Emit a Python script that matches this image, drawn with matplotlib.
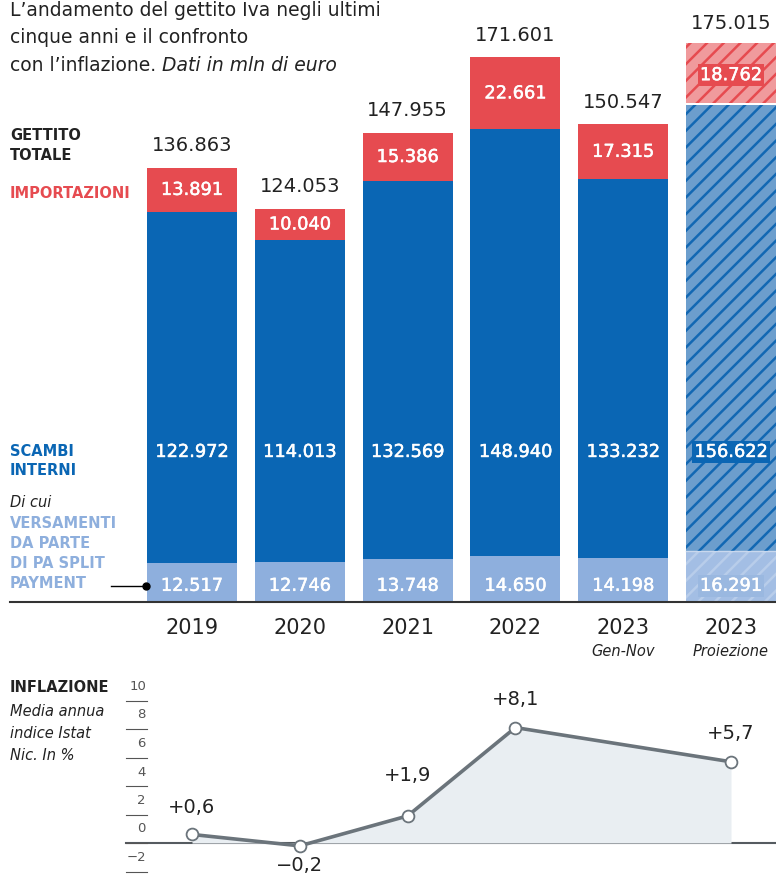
import matplotlib
matplotlib.use('Agg')
import matplotlib.pyplot as plt
import matplotlib.patheffects as pe
import numpy as np

# data (mln di euro)
years = ['2019', '2020', '2021', '2022', '2023', '2023']
subyears = ['', '', '', '', 'Gen-Nov', 'Proiezione']
totale = [136863, 124053, 147955, 171601, 150547, 175015]
importazioni = [13891, 10040, 15386, 22661, 17315, 18762]
scambi = [122972, 114013, 132569, 148940, 133232, 156622]
split = [12517, 12746, 13748, 14650, 14198, 16291]

infl_cols = [0, 1, 2, 3, 5]
inflazione = [0.6, -0.2, 1.9, 8.1, 5.7]

W, H = 776, 881
BLUE = '#0a66b4'
RED = '#e64b50'
LIGHT = '#8eafdd'
DARK = '#222222'

plt.rcParams['font.family'] = 'DejaVu Sans'
plt.rcParams['hatch.linewidth'] = 1.8

fig = plt.figure(figsize=(W / 100, H / 100), dpi=100)


def fx(px):
    return px / W


def fy(py):
    return 1 - py / H


# ---- bar chart ----
px_per_unit = 107.8
x0_px = 192
xlim = (-x0_px / px_per_unit, (W - x0_px) / px_per_unit)
base_px = 603
val_per_px = 314.5

ax = fig.add_axes([0, 1 - base_px / H, 1, base_px / H])
ax.set_xlim(*xlim)
ax.set_ylim(0, base_px * val_per_px)
ax.axis('off')

bw = 90 / px_per_unit
x = np.arange(len(years))
split_a = np.array(split)
scambi_a = np.array(scambi)
imp_a = np.array(importazioni)
lab_font = dict(fontsize=12.8, path_effects=[pe.withStroke(linewidth=0.35, foreground='white')])

for i in x:
    proj = subyears[i] == 'Proiezione'
    if not proj:
        ax.bar(i, split_a[i], bw, color=LIGHT, linewidth=0)
        ax.bar(i, scambi_a[i] - split_a[i], bw, bottom=split_a[i], color=BLUE, linewidth=0)
        ax.bar(i, imp_a[i], bw, bottom=scambi_a[i], color=RED, linewidth=0)
    else:
        ax.bar(i, split_a[i], bw, color='#a3bee4', edgecolor='#b8cdea', linewidth=0, hatch='//')
        ax.bar(i, scambi_a[i] - split_a[i], bw, bottom=split_a[i], color='#6c9ecd',
               edgecolor='#1268b3', linewidth=0, hatch='//')
        ax.bar(i, imp_a[i], bw, bottom=scambi_a[i] + 600, color='#f09a9c',
               edgecolor=RED, linewidth=0, hatch='//')
        ax.plot([i - bw / 2, i + bw / 2], [split_a[i]] * 2, color='#c9d8ee', lw=1)

    fmt = lambda v: f'{v:,}'.replace(',', '.')
    box = lambda c: dict(boxstyle='square,pad=0.12', fc=c, ec='none') if proj else None
    ax.text(i, scambi_a[i] + imp_a[i] + 7000, fmt(totale[i]), ha='center', va='center',
            fontsize=14, color=DARK)
    ax.text(i, scambi_a[i] + imp_a[i] / 2, fmt(importazioni[i]), ha='center', va='center',
            color='white', bbox=box(RED), **lab_font)
    ax.text(i, 47500, fmt(scambi[i]), ha='center', va='center',
            color='white', bbox=box(BLUE), **lab_font)
    ax.text(i, 5400, fmt(split[i]), ha='center', va='center',
            color='white', bbox=box('#9ab8e0'), **lab_font)

# baseline and year labels
fig.add_artist(plt.Line2D([fx(10), 1], [fy(602), fy(602)], color='#333333', lw=1.5))
for i in x:
    xp = fx(x0_px + i * px_per_unit)
    fig.text(xp, fy(628), years[i], ha='center', va='center', fontsize=15, color=DARK)
    if subyears[i]:
        fig.text(xp, fy(652), subyears[i], ha='center', va='center', fontsize=10.5,
                 style='italic', color=DARK)

# connector for split payment
fig.add_artist(plt.Line2D([fx(111), fx(146)], [fy(586), fy(586)], color='black', lw=1))
fig.add_artist(plt.Line2D([fx(146)], [fy(586)], marker='o', ms=5, color='black'))

# title
fig.text(fx(10), fy(16), "L\u2019andamento del gettito Iva negli ultimi", fontsize=13.5,
         color=DARK, va='baseline')
fig.text(fx(10), fy(43), "cinque anni e il confronto", fontsize=13.5, color=DARK, va='baseline')
t = fig.text(fx(10), fy(71), "con l\u2019inflazione. ", fontsize=13.5, color=DARK, va='baseline')
r = fig.canvas.get_renderer()
bb = t.get_window_extent(r)
fig.text(bb.x1 / W, fy(71), "Dati in mln di euro", fontsize=13.5, color=DARK,
         va='baseline', style='italic')

# left labels
side = [
    ('GETTITO', 136, DARK, 'bold', 'normal'),
    ('TOTALE', 155, DARK, 'bold', 'normal'),
    ('IMPORTAZIONI', 193, RED, 'bold', 'normal'),
    ('SCAMBI', 452, BLUE, 'bold', 'normal'),
    ('INTERNI', 471, BLUE, 'bold', 'normal'),
    ('Di cui', 503, DARK, 'normal', 'italic'),
    ('VERSAMENTI', 523, LIGHT, 'bold', 'normal'),
    ('DA PARTE', 543, LIGHT, 'bold', 'normal'),
    ('DI PA SPLIT', 564, LIGHT, 'bold', 'normal'),
    ('PAYMENT', 584, LIGHT, 'bold', 'normal'),
    ('INFLAZIONE', 688, DARK, 'bold', 'normal'),
    ('Media annua', 711, DARK, 'normal', 'italic'),
    ('indice Istat', 733, DARK, 'normal', 'italic'),
    ('Nic. In %', 755, DARK, 'normal', 'italic'),
]
for s, yp, c, w, st in side:
    fig.text(fx(10), fy(yp), s, fontsize=10.5, color=c, weight=w, style=st, va='center')

# ---- inflation ----
zero_px = 843
px_per_pt = 14.25
top_px = 680
ax2 = fig.add_axes([0, 0, 1, (H - top_px) / H])
ax2.set_xlim(*xlim)
ax2.set_ylim(-(H - zero_px) / px_per_pt, (zero_px - top_px) / px_per_pt)
ax2.axis('off')

ax2.fill_between(infl_cols, 0, inflazione, color='#e9eef2', lw=0)
ax2.plot(infl_cols, inflazione, color='#6b747b', lw=2.6, marker='o', ms=8.5,
         mfc='white', mec='#6b747b', mew=1.3, solid_joinstyle='round')
ax2.axhline(0, xmin=fx(126), xmax=1, color='#555b60', lw=1.5, zorder=0)

for v in range(-2, 11, 2):
    ax2.plot([(126 - x0_px) / px_per_unit, (147 - x0_px) / px_per_unit], [v, v],
             color='#555555', lw=0.8)
    ax2.text((146 - x0_px) / px_per_unit, v + 14 / px_per_pt, str(v).replace('-', '\u2212'),
             ha='right', va='center', fontsize=9.5, color='#555555')

infl_dy = [27, -20, 40, 28, 28]
for c, v, dy in zip(infl_cols, inflazione, infl_dy):
    lab = f'{v:+.1f}'.replace('.', ',').replace('-', '\u2212')
    ax2.text(c, v + dy / px_per_pt, lab, ha='center', va='center', fontsize=14, color=DARK)

fig.savefig('out.png', dpi=100)
